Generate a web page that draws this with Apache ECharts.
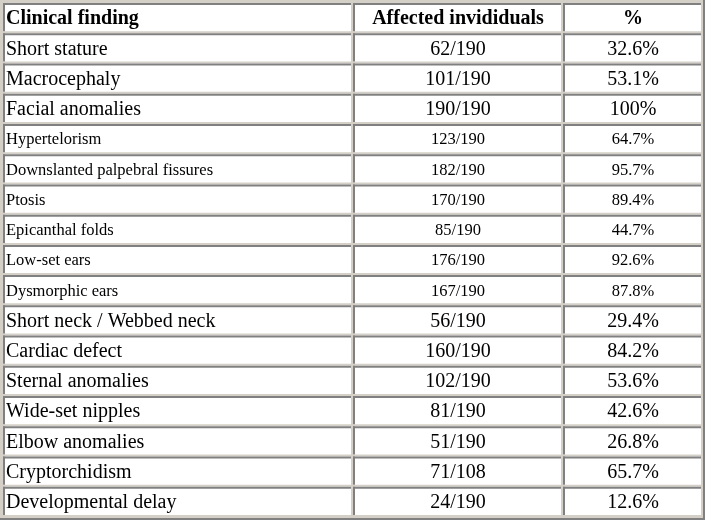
<!DOCTYPE html>
<html>
<head>
<meta charset="utf-8">
<script src="https://cdn.jsdelivr.net/npm/echarts@6/dist/echarts.min.js"></script>
<style>
  html, body { margin: 0; padding: 0; background: #ffffff; }
  #wrap { width: 705px; height: 520px; box-sizing: border-box; background: #d4d0c8;
          border-right: 2px solid #808080; border-bottom: 2px solid #808080; }
  #chart { width: 703px; height: 518px; }
</style>
</head>
<body>
<div id="wrap"><div id="chart"></div></div>
<script>
// ---- table content ----
const headers = ['Clinical finding', 'Affected invididuals', '%'];
const findings = [
  'Short stature', 'Macrocephaly', 'Facial anomalies', 'Hypertelorism',
  'Downslanted palpebral fissures', 'Ptosis', 'Epicanthal folds', 'Low-set ears',
  'Dysmorphic ears', 'Short neck / Webbed neck', 'Cardiac defect', 'Sternal anomalies',
  'Wide-set nipples', 'Elbow anomalies', 'Cryptorchidism', 'Developmental delay'
];
const affected = [62, 101, 190, 123, 182, 170, 85, 176, 167, 56, 160, 102, 81, 51, 71, 24];
const cohort   = [190, 190, 190, 190, 190, 190, 190, 190, 190, 190, 190, 190, 190, 190, 108, 190];
const percent  = [32.6, 53.1, 100, 64.7, 95.7, 89.4, 44.7, 92.6, 87.8, 29.4, 84.2, 53.6, 42.6, 26.8, 65.7, 12.6];
// sub-findings of "Facial anomalies" are printed in a smaller font
const isSubFinding = [false, false, false, true, true, true, true, true, true, false, false, false, false, false, false, false];

// ---- layout (not data) ----
const colEdges = [[3, 351], [353, 561], [563, 701]];
const DARK = '#808080';
const SERIF = 'Liberation Serif';

const rowKeys = ['header'].concat(findings);

function fmtPct(p) { return (Number.isInteger(p) ? String(p) : p.toFixed(1)) + '%'; }

function rowTexts(i) {
  if (i === 0) return headers;
  const k = i - 1;
  return [findings[k], affected[k] + '/' + cohort[k], fmtPct(percent[k])];
}

const chart = echarts.init(document.getElementById('chart'), null, { renderer: 'canvas' });
chart.setOption({
  animation: false,
  backgroundColor: 'transparent',
  textStyle: { fontFamily: SERIF, fontSize: 20 },
  grid: { left: 0, right: 0, top: 2, bottom: 2 },
  xAxis: { type: 'value', min: 0, max: 703, show: false },
  yAxis: { type: 'category', data: rowKeys, inverse: true, show: false },
  series: [{
    type: 'custom',
    data: rowKeys.map((_, i) => [0, i]),
    encode: { x: 0, y: 1 },
    renderItem: function (params, api) {
      const idx = api.value(1);
      const center = api.coord([0, idx]);
      const band = api.size([0, 1])[1];
      const top = center[1] - band / 2 + 1;
      const h = band - 2;
      const texts = rowTexts(idx);
      const isHeader = idx === 0;
      const small = !isHeader && isSubFinding[idx - 1];
      const children = [];
      colEdges.forEach(function (edge, c) {
        const x0 = api.coord([edge[0], idx])[0];
        const x1 = api.coord([edge[1], idx])[0];
        const w = x1 - x0;
        children.push({ type: 'rect', shape: { x: x0, y: top, width: w, height: h }, style: { fill: '#ffffff' } });
        children.push({ type: 'rect', shape: { x: x0, y: top, width: w, height: 2 }, style: { fill: DARK } });
        children.push({ type: 'rect', shape: { x: x0, y: top, width: 2, height: h }, style: { fill: DARK } });
        children.push({
          type: 'text',
          x: c === 0 ? x0 + 3 : (x0 + x1) / 2 + 1,
          y: top + h / 2 + 2,
          style: {
            text: texts[c],
            align: c === 0 ? 'left' : 'center',
            verticalAlign: 'middle',
            fill: '#000000',
            fontFamily: SERIF,
            fontSize: small ? 16.5 : 20,
            fontWeight: isHeader ? 'bold' : 'normal'
          }
        });
      });
      return { type: 'group', children: children };
    }
  }]
});
</script>
</body>
</html>
